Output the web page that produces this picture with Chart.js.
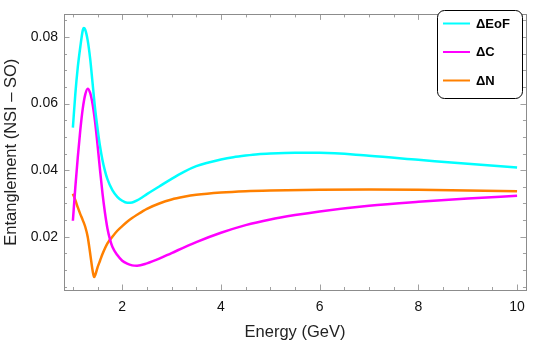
<!DOCTYPE html>
<html>
<head>
<meta charset="utf-8">
<script src="https://cdn.jsdelivr.net/npm/chart.js@4.4.1/dist/chart.umd.min.js"></script>
<style>
  html, body { margin: 0; padding: 0; background: #fff; }
  #wrap { width: 534px; height: 344px; position: relative; }
</style>
</head>
<body>
<div id="wrap"><canvas id="c" width="534" height="344"></canvas></div>
<script>
// ---- data ----
const energyEoF = [1.0, 1.05, 1.1, 1.15, 1.2, 1.22, 1.25, 1.3, 1.35, 1.4, 1.45, 1.5, 1.55, 1.6, 1.65, 1.7, 1.8, 1.9, 2.0, 2.1, 2.2, 2.3, 2.4, 2.5, 2.75, 3.0, 3.25, 3.5, 3.75, 4.0, 4.25, 4.5, 4.75, 5.0, 5.5, 6.0, 7.0, 8.0, 9.0, 10.0];
const deltaEoF = [0.0528, 0.0630, 0.0710, 0.0770, 0.0820, 0.0827, 0.0822, 0.0790, 0.0735, 0.0660, 0.0585, 0.0525, 0.0472, 0.0430, 0.0398, 0.0373, 0.0340, 0.0320, 0.0308, 0.0302, 0.0303, 0.0309, 0.0318, 0.0328, 0.0351, 0.0374, 0.0395, 0.0412, 0.0423, 0.0432, 0.0439, 0.0444, 0.0448, 0.0450, 0.0452, 0.0452, 0.0443, 0.0431, 0.0419, 0.0408];
const energyC = [1.0, 1.05, 1.1, 1.15, 1.2, 1.25, 1.3, 1.35, 1.4, 1.45, 1.5, 1.55, 1.6, 1.65, 1.7, 1.75, 1.8, 1.9, 2.0, 2.1, 2.2, 2.3, 2.5, 2.75, 3.0, 3.5, 4.0, 4.5, 5.0, 5.5, 6.0, 7.0, 8.0, 9.0, 10.0];
const deltaC = [0.0248, 0.0350, 0.0440, 0.0520, 0.0585, 0.0627, 0.0645, 0.0632, 0.0598, 0.0545, 0.0475, 0.0400, 0.0330, 0.0272, 0.0225, 0.0193, 0.0170, 0.0145, 0.0128, 0.0119, 0.0114, 0.0113, 0.0120, 0.0134, 0.0151, 0.0184, 0.0212, 0.0235, 0.0252, 0.0265, 0.0276, 0.0293, 0.0305, 0.0315, 0.0323];
const energyN = [1.0, 1.05, 1.1, 1.15, 1.2, 1.25, 1.3, 1.35, 1.4, 1.43, 1.46, 1.5, 1.55, 1.6, 1.7, 1.8, 1.9, 2.0, 2.1, 2.2, 2.3, 2.5, 2.75, 3.0, 3.25, 3.5, 4.0, 4.5, 5.0, 6.0, 7.0, 8.0, 9.0, 10.0];
const deltaN = [0.0329, 0.0310, 0.0288, 0.0268, 0.0250, 0.0230, 0.0200, 0.0150, 0.0098, 0.0079, 0.0088, 0.0108, 0.0128, 0.0148, 0.0180, 0.0200, 0.0218, 0.0232, 0.0245, 0.0256, 0.0266, 0.0284, 0.0300, 0.0312, 0.0320, 0.0326, 0.0333, 0.0337, 0.0339, 0.0341, 0.0342, 0.0341, 0.0339, 0.0337];
const seriesLabels = ['\u0394EoF', '\u0394C', '\u0394N'];
const xTicks = [2, 4, 6, 8, 10];
const yTicks = [0.02, 0.04, 0.06, 0.08];
const xMinorStep = 0.5;
const yMinorStep = 0.005;

const FONT = '"Liberation Sans", Arial, Helvetica, sans-serif';

function pts(xs, ys) { return xs.map((x, i) => ({ x: x, y: ys[i] })); }

// frame + inward ticks on all four sides
const framePlugin = {
  id: 'frame',
  afterDraw(chart) {
    const ctx = chart.ctx, a = chart.chartArea;
    const xs = chart.scales.x, ys = chart.scales.y;
    ctx.save();
    ctx.strokeStyle = '#a0a0a0';
    ctx.lineWidth = 1;
    ctx.beginPath();
    const eps = 1e-9;
    function isMajor(v, list) { return list.some(t => Math.abs(t - v) < 1e-6); }
    for (let v = Math.ceil(xs.min / xMinorStep) * xMinorStep; v <= xs.max + eps; v += xMinorStep) {
      const px = Math.round(xs.getPixelForValue(v)) + 0.5;
      const len = isMajor(v, xTicks) ? 5.5 : 3;
      ctx.moveTo(px, a.bottom); ctx.lineTo(px, a.bottom - len);
      ctx.moveTo(px, a.top); ctx.lineTo(px, a.top + len);
    }
    for (let v = Math.ceil(ys.min / yMinorStep) * yMinorStep; v <= ys.max + eps; v += yMinorStep) {
      const py = Math.round(ys.getPixelForValue(v)) + 0.5;
      const len = isMajor(v, yTicks) ? 5.5 : 3;
      ctx.moveTo(a.left, py); ctx.lineTo(a.left + len, py);
      ctx.moveTo(a.right, py); ctx.lineTo(a.right - len, py);
    }
    ctx.stroke();
    ctx.strokeStyle = '#8c8c8c';
    ctx.strokeRect(Math.round(a.left) + 0.5, Math.round(a.top) + 0.5, Math.round(a.right - a.left), Math.round(a.bottom - a.top));
    ctx.restore();
  }
};

// framed legend inside the plot, top-right
const legendPlugin = {
  id: 'boxLegend',
  afterDraw(chart) {
    const ctx = chart.ctx;
    const bx = 437, by = 10, bw = 85, bh = 88, r = 7;
    ctx.save();
    ctx.fillStyle = '#ffffff';
    ctx.strokeStyle = '#000000';
    ctx.lineWidth = 1;
    ctx.beginPath();
    ctx.roundRect(bx + 0.5, by + 0.5, bw, bh, r);
    ctx.fill();
    ctx.stroke();
    ctx.font = 'bold 13px ' + FONT;
    ctx.textBaseline = 'middle';
    ctx.textAlign = 'left';
    chart.data.datasets.forEach((ds, i) => {
      const y = 23.5 + i * 28.5;
      ctx.strokeStyle = ds.borderColor;
      ctx.lineWidth = 2;
      ctx.beginPath();
      ctx.moveTo(443, y); ctx.lineTo(470, y);
      ctx.stroke();
      ctx.fillStyle = '#000';
      ctx.fillText(ds.label, 476, y + 0.5);
    });
    ctx.restore();
  }
};

new Chart(document.getElementById('c'), {
  type: 'line',
  data: {
    datasets: [
      { label: seriesLabels[0], data: pts(energyEoF, deltaEoF), borderColor: '#00ffff' },
      { label: seriesLabels[1], data: pts(energyC, deltaC), borderColor: '#ff00ff' },
      { label: seriesLabels[2], data: pts(energyN, deltaN), borderColor: '#ff8000' }
    ].map(d => Object.assign(d, { borderWidth: 2.5, pointRadius: 0, fill: false, cubicInterpolationMode: 'monotone' }))
  },
  options: {
    responsive: false,
    animation: false,
    devicePixelRatio: 1,
    layout: { padding: { left: 0, right: 7, top: 5, bottom: 0 } },
    plugins: { legend: { display: false }, tooltip: { enabled: false } },
    scales: {
      x: {
        type: 'linear', min: 0.82, max: 10.18,
        afterBuildTicks(s) { s.ticks = xTicks.map(v => ({ value: v })); },
        afterFit(s) { s.height = 54; },
        grid: { display: false, drawTicks: false },
        border: { display: false },
        ticks: { color: '#111', font: { family: FONT, size: 14 }, padding: 9, maxRotation: 0, callback: v => String(v) },
        title: { display: true, text: 'Energy (GeV)', color: '#222', font: { family: FONT, size: 16.5 }, padding: { top: 0, bottom: 2 } }
      },
      y: {
        type: 'linear', min: 0.004, max: 0.0868,
        afterBuildTicks(s) { s.ticks = yTicks.map(v => ({ value: v })); },
        afterFit(s) { s.width = 64; },
        grid: { display: false, drawTicks: false },
        border: { display: false },
        ticks: { color: '#111', font: { family: FONT, size: 14 }, padding: 6, callback: v => v.toFixed(2) },
        title: { display: true, text: 'Entanglement (NSI \u2013 SO)', color: '#222', font: { family: FONT, size: 16.5 }, padding: { top: 2, bottom: 0 } }
      }
    }
  },
  plugins: [framePlugin, legendPlugin]
});
</script>
</body>
</html>
